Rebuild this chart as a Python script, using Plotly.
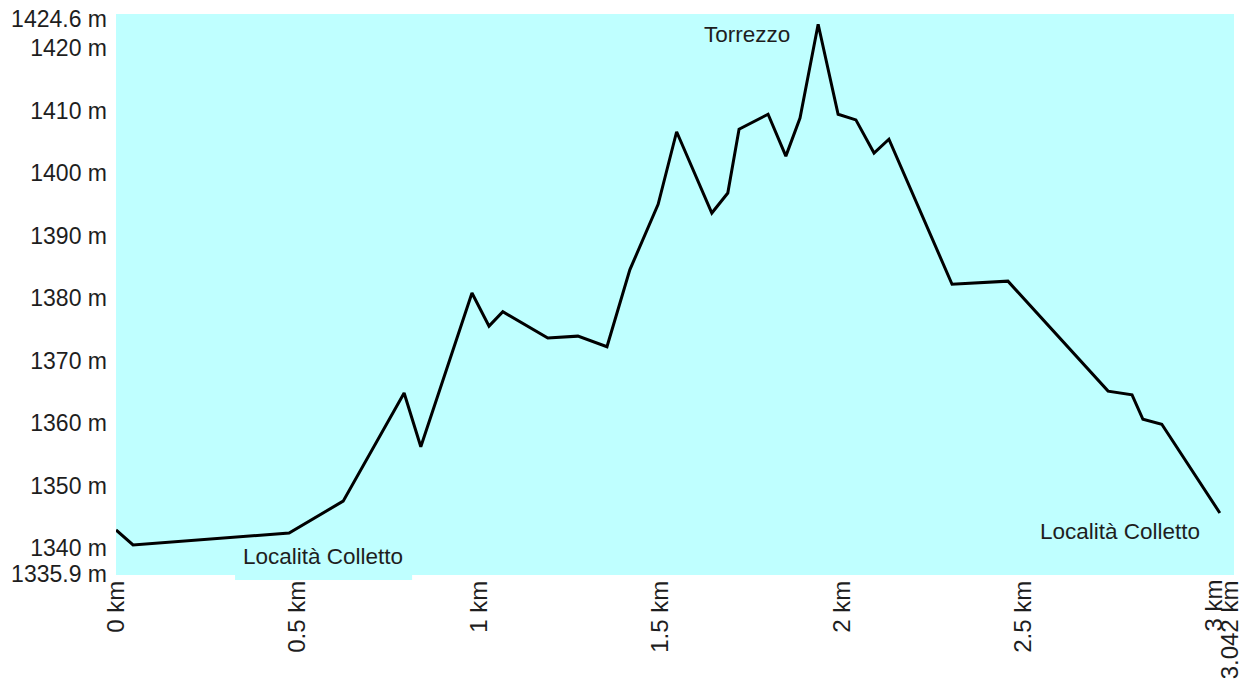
import plotly.graph_objects as go

# distance (km) and elevation (m)
distance_km = [0.000, 0.047, 0.477, 0.626, 0.794, 0.840, 0.981, 1.028, 1.066, 1.190,
               1.273, 1.353, 1.416, 1.494, 1.545, 1.642, 1.686, 1.717, 1.797, 1.846,
               1.885, 1.935, 1.990, 2.039, 2.089, 2.130, 2.304, 2.458, 2.734, 2.800,
               2.830, 2.882, 3.042]
elevation_m = [1342.9, 1340.5, 1342.4, 1347.5, 1364.8, 1356.2, 1380.8, 1375.5, 1377.8, 1373.6,
               1373.9, 1372.2, 1384.5, 1395.0, 1406.6, 1393.6, 1396.8, 1407.0, 1409.4, 1402.7,
               1408.8, 1423.8, 1409.4, 1408.5, 1403.2, 1405.4, 1382.2, 1382.7, 1365.1, 1364.5,
               1360.6, 1359.8, 1345.6]

x_tick_vals = [0, 0.5, 1, 1.5, 2, 2.5]
x_tick_text = ["0 km", "0.5 km", "1 km", "1.5 km", "2 km", "2.5 km"]
# last two x labels sit close together; the reference nudges them apart
x_end_vals = [3, 3.042]
x_end_text = ["3 km", "3.042 km"]
y_tick_vals = [1335.9, 1340, 1350, 1360, 1370, 1380, 1390, 1400, 1410, 1420, 1424.6]
y_tick_text = ["1335.9 m", "1340 m", "1350 m", "1360 m", "1370 m", "1380 m", "1390 m",
               "1400 m", "1410 m", "1420 m", "1424.6 m"]

place_names = ["Località Colletto", "Torrezzo", "Località Colletto"]
place_x = [0.570, 1.739, 2.767]
place_y = [1338.7, 1422.1, 1342.7]

CYAN = "#bfffff"
FONT = "Liberation Sans, Arial, sans-serif"
TXT = "#1e1e1e"

fig = go.Figure()
fig.add_trace(go.Scatter(
    x=distance_km, y=elevation_m, mode="lines",
    line=dict(color="black", width=3),
    hoverinfo="skip", showlegend=False, cliponaxis=False,
))

for name, px, py in zip(place_names, place_x, place_y):
    fig.add_annotation(
        x=px, y=py, xref="x", yref="y", text=name, showarrow=False,
        font=dict(family=FONT, size=22.5, color=TXT),
    )

for val, txt, shift in zip(x_end_vals, x_end_text, [8, 10]):
    fig.add_annotation(
        x=val, y=0, xref="x", yref="paper", text=txt, showarrow=False,
        textangle=-90, xanchor="center", yanchor="top", yshift=-4, xshift=shift,
        font=dict(family=FONT, size=24, color=TXT), borderpad=0,
    )

# small cyan strip under the first label that spills below the plot area
fig.add_shape(type="rect", xref="x", yref="paper", x0=0.328, x1=0.816,
              y0=-0.009, y1=0.0, fillcolor=CYAN, line=dict(width=0), layer="below")

fig.update_layout(
    width=1250, height=691,
    margin=dict(l=116, r=16, t=14, b=116, autoexpand=False),
    paper_bgcolor="white", plot_bgcolor=CYAN,
    font=dict(family=FONT, size=23, color=TXT),
    xaxis=dict(range=[0, 3.081], tickvals=x_tick_vals, ticktext=x_tick_text,
               tickangle=-90, showgrid=False, zeroline=False, showline=False,
               tickfont=dict(size=24),
               ticks="", ticklabelstandoff=0, fixedrange=True, automargin=False,
               ticklabeloverflow="allow"),
    yaxis=dict(range=[1335.68, 1425.44], tickvals=y_tick_vals, ticktext=y_tick_text,
               showgrid=False, zeroline=False, showline=False, ticks="",
               ticklabelstandoff=8, fixedrange=True, automargin=False,
               ticklabeloverflow="allow"),
)

fig.write_html("out.html", config={"displayModeBar": False},
               post_script="document.body.style.margin='0';")
